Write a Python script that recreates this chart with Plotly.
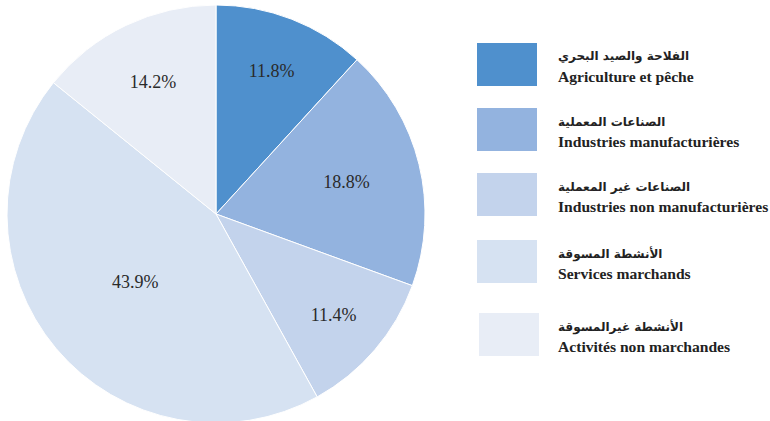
import plotly.graph_objects as go

labels_fr = ["Agriculture et pêche", "Industries manufacturières", "Industries non manufacturières",
             "Services marchands", "Activités non marchandes"]
labels_ar = ["الفلاحة والصيد البحري", "الصناعات المعملية", "الصناعات غير المعملية",
             "الأنشطة المسوقة", "الأنشطة غيرالمسوقة"]
values = [11.8, 18.8, 11.4, 43.9, 14.2]
colors = ["#4F90CD", "#93B3DF", "#C3D3EC", "#D6E2F2", "#E8EDF6"]

SERIF = "Liberation Serif, Times New Roman, DejaVu Serif, serif"
W, H = 770, 428
fig = go.Figure(go.Pie(
    labels=labels_fr, values=values, sort=False, direction="clockwise", rotation=0,
    marker=dict(colors=colors, line=dict(color="white", width=1)),
    texttemplate="%{value:.1f}%", textposition="inside", insidetextorientation="horizontal",
    textfont=dict(family=SERIF, size=18, color="#2a2a2a"),
    showlegend=False, hoverinfo="skip",
    domain=dict(x=[7 / W, 425 / W], y=[0, 1]),
))

# custom legend
box_tops = [43, 108, 173, 240, 313]
box_left = [477, 477, 477, 477, 479]
shapes, annos = [], []
for i in range(5):
    y0 = box_tops[i]
    shapes.append(dict(type="rect", xref="paper", yref="paper",
                       x0=box_left[i] / W, x1=(box_left[i] + 60) / W,
                       y0=1 - y0 / H, y1=1 - (y0 + 43) / H,
                       fillcolor=colors[i], line=dict(width=0)))
    annos.append(dict(xref="paper", yref="paper", x=556 / W, y=1 - (y0 + 14) / H,
                      xanchor="left", yanchor="middle", showarrow=False,
                      text="<b>" + labels_ar[i] + "</b>",
                      font=dict(family="DejaVu Sans", size=12, color="#222")))
    annos.append(dict(xref="paper", yref="paper", x=556 / W, y=1 - (y0 + 33) / H,
                      xanchor="left", yanchor="middle", showarrow=False,
                      text="<b>" + labels_fr[i] + "</b>",
                      font=dict(family=SERIF, size=15.6, color="#222")))

fig.update_layout(width=W, height=H, margin=dict(l=0, r=0, t=0, b=0),
                  paper_bgcolor="white", plot_bgcolor="white",
                  shapes=shapes, annotations=annos)
fig.write_html("out.html", config={"displayModeBar": False},
               post_script="document.body.style.margin='0';document.body.style.overflow='hidden';")
